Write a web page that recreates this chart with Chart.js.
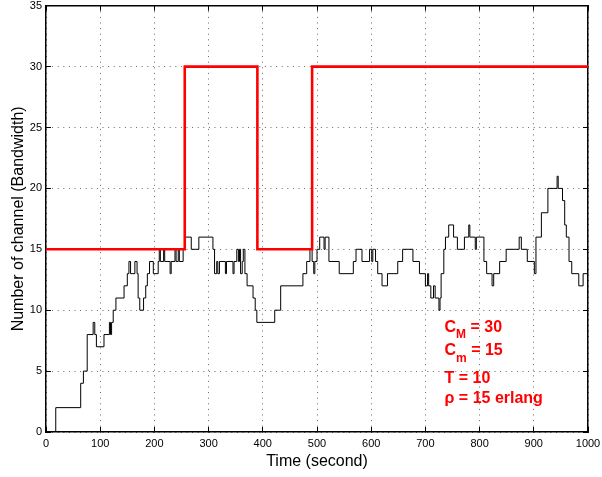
<!DOCTYPE html>
<html>
<head>
<meta charset="utf-8">
<style>
  html, body { margin: 0; padding: 0; background: #fff; }
</style>
</head>
<body>
<canvas id="myChart" width="602" height="477"></canvas>

<script src="https://cdn.jsdelivr.net/npm/chart.js"></script>
<script>
// channels in use (black), one value per step start time
var timeSec = [0, 18, 64, 69, 76, 87, 90, 93, 107, 117, 119, 121, 124, 129, 144, 150, 153, 156, 164, 168,
  170, 173, 180, 184, 187, 191, 198, 207, 209, 211, 217, 219, 229, 231, 238, 240, 244, 246, 253, 256,
  268, 282, 308, 311, 315, 317, 320, 331, 333, 345, 347, 352, 355, 357, 359, 362, 364, 367, 371, 382,
  386, 389, 422, 433, 474, 481, 487, 491, 494, 496, 500, 505, 513, 515, 522, 541, 567, 572, 583, 597,
  601, 603, 608, 612, 620, 630, 649, 658, 677, 689, 700, 704, 706, 710, 715, 718, 725, 727, 729, 734,
  737, 743, 752, 759, 772, 780, 782, 792, 794, 808, 813, 823, 826, 837, 849, 873, 877, 888, 901, 904,
  914, 926, 943, 945, 953, 957, 960, 965, 970, 983, 991, 1000];
var channels = [0, 2, 4, 5, 8, 9, 8, 7, 8, 9, 8, 9, 10, 11, 12, 13, 14, 13, 14, 13,
  11, 10, 11, 12, 13, 14, 13, 14, 15, 14, 15, 14, 13, 14, 15, 14, 15, 14, 15, 16,
  15, 16, 15, 13, 14, 13, 14, 13, 14, 13, 14, 15, 14, 15, 13, 14, 15, 13, 12, 11,
  10, 9, 10, 12, 13, 14, 15, 14, 13, 14, 15, 16, 15, 16, 14, 13, 14, 15, 14, 15,
  14, 15, 14, 13, 12, 13, 14, 15, 14, 13, 12, 13, 12, 11, 12, 11, 10, 11, 13, 15,
  16, 17, 16, 15, 16, 17, 16, 15, 16, 14, 13, 12, 13, 14, 15, 16, 15, 14, 13, 16,
  18, 20, 21, 20, 19, 17, 16, 14, 13, 12, 13, 13];

// allocated bandwidth (red)
var bwTime = [0, 256, 390, 491, 1000];
var bwLevel = [15, 30, 15, 30, 30];

var xTicks = [0, 100, 200, 300, 400, 500, 600, 700, 800, 900, 1000];
var yTicks = [0, 5, 10, 15, 20, 25, 30, 35];

var noteLines = [
  ['C', 'M', ' = 30'],
  ['C', 'm', ' = 15'],
  ['T = 10', '', ''],
  ['\u03c1 = 15 erlang', '', '']
];

var FONT = '"Liberation Sans", Arial, Helvetica, sans-serif';

function toPoints(xs, ys) {
  return xs.map(function(x, i) { return {x: x, y: ys[i]}; });
}

// fixed axis sizes so the plot box sits where the original one does
function fixSize(size, horizontal) {
  return function(scale) {
    if (horizontal) scale.height = size; else scale.width = size;
    scale.paddingLeft = 0; scale.paddingRight = 0;
    scale.paddingTop = 0; scale.paddingBottom = 0;
  };
}
function useTicks(list) {
  return function(scale) {
    scale.ticks = list.map(function(v) { return {value: v}; });
  };
}

var notePlugin = {
  id: 'notes',
  afterDraw: function(chart) {
    var ctx = chart.ctx;
    var baselines = [331.7, 355, 383.3, 402.7];
    ctx.save();
    ctx.fillStyle = '#ff0000';
    ctx.textBaseline = 'alphabetic';
    ctx.textAlign = 'left';
    noteLines.forEach(function(parts, i) {
      var x = 444.5, y = baselines[i];
      ctx.font = 'bold 16px ' + FONT;
      ctx.fillText(parts[0], x, y);
      x += ctx.measureText(parts[0]).width;
      if (parts[1]) {
        ctx.font = 'bold 12px ' + FONT;
        ctx.fillText(parts[1], x, y + 6.6);
        x += ctx.measureText(parts[1]).width;
      }
      if (parts[2]) {
        ctx.font = 'bold 16px ' + FONT;
        ctx.fillText(parts[2], x, y);
      }
    });
    ctx.restore();
  }
};

// MATLAB style: dotted grid, inward ticks on all four sides
var gridDots = {
  color: 'rgba(0,0,0,0.6)',
  lineWidth: 1,
  tickLength: -5,
  tickColor: '#000',
  tickWidth: 1
};
// in v4 the grid line dash lives in border.dash
var borderDotted = { display: true, color: '#000', width: 1.5, dash: [1, 4.6] };
var border = { display: true, color: '#000', width: 1.5 };
var plainLabel = function(v) { return String(v); };

var ctx = document.getElementById('myChart').getContext('2d');
var chart = new Chart(ctx, {
  type: 'line',
  data: {
    datasets: [{
      label: 'Bandwidth',
      data: toPoints(bwTime, bwLevel),
      stepped: true,
      borderColor: '#ff0000',
      borderWidth: 2.6,
      pointRadius: 0,
      fill: false
    }, {
      label: 'Channels',
      data: toPoints(timeSec, channels),
      stepped: true,
      borderColor: '#000',
      borderWidth: 1,
      pointRadius: 0,
      fill: false
    }]
  },
  options: {
    responsive: false,
    animation: false,
    devicePixelRatio: 1,
    layout: { padding: 0 },
    plugins: {
      legend: { display: false },
      tooltip: { enabled: false }
    },
    scales: {
      x: {
        type: 'linear', position: 'bottom', min: 0, max: 1000,
        afterBuildTicks: useTicks(xTicks),
        afterFit: fixSize(45, true),
        grid: gridDots, border: borderDotted,
        ticks: { color: '#000', padding: 10, maxRotation: 0, callback: plainLabel,
                 font: { family: FONT, size: 11 } },
        title: { display: true, text: 'Time (second)', color: '#000',
                 padding: { top: 0, bottom: 6 }, font: { family: FONT, size: 16 } }
      },
      y: {
        type: 'linear', position: 'left', min: 0, max: 35,
        afterBuildTicks: useTicks(yTicks),
        afterFit: fixSize(46, false),
        grid: gridDots, border: borderDotted,
        ticks: { color: '#000', padding: 9, callback: plainLabel,
                 font: { family: FONT, size: 11 } },
        title: { display: true, text: 'Number of channel (Bandwidth)', color: '#000',
                 padding: { top: 9.2, bottom: 0 }, font: { family: FONT, size: 16 } }
      },
      x2: {
        type: 'linear', position: 'top', min: 0, max: 1000,
        afterBuildTicks: useTicks(xTicks),
        afterFit: fixSize(5.7, true),
        grid: { drawOnChartArea: false, tickLength: -5, tickColor: '#000', tickWidth: 1 },
        border: border,
        ticks: { display: false }
      },
      y2: {
        type: 'linear', position: 'right', min: 0, max: 35,
        afterBuildTicks: useTicks(yTicks),
        afterFit: fixSize(14, false),
        grid: { drawOnChartArea: false, tickLength: -5, tickColor: '#000', tickWidth: 1 },
        border: border,
        ticks: { display: false }
      }
    }
  },
  plugins: [notePlugin]
});
</script>
</body>
</html>
